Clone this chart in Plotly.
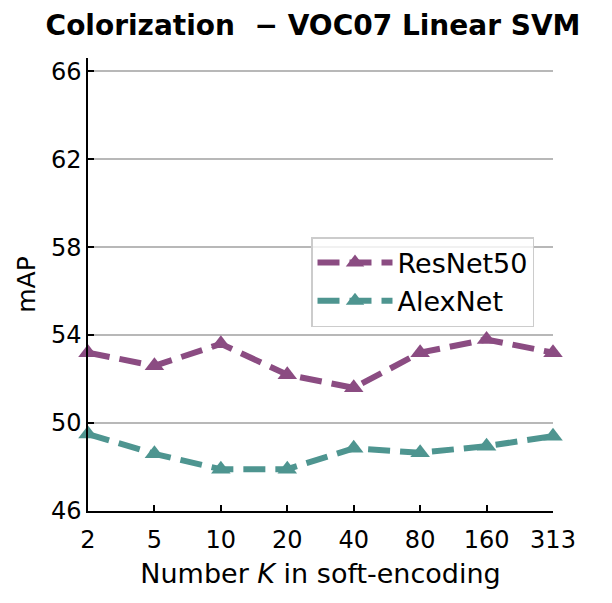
import plotly.graph_objects as go

categories = ["2", "5", "10", "20", "40", "80", "160", "313"]
resnet50 = [53.2, 52.6, 53.6, 52.2, 51.6, 53.2, 53.8, 53.2]
alexnet = [49.5, 48.6, 47.9, 47.9, 48.85, 48.65, 48.95, 49.4]
yticks = [46, 50, 54, 58, 62, 66]

purple = "#8B4C82"
teal = "#4E9590"

fig = go.Figure()
for name, vals, col in [("ResNet50", resnet50, purple), ("AlexNet", alexnet, teal)]:
    fig.add_trace(go.Scatter(
        x=categories, y=vals, name=name, mode="lines+markers",
        line=dict(color=col, width=6, dash="22px,10px"),
        marker=dict(symbol="triangle-up", size=17, color=col),
        cliponaxis=False,
    ))

font = "DejaVu Sans"
fig.update_layout(
    width=612, height=603,
    margin=dict(l=88, r=59, t=58, b=92),
    paper_bgcolor="white", plot_bgcolor="white",
    font=dict(family=font, size=24, color="black"),
    title=dict(text="<b>Colorization  − VOC07 Linear SVM</b>", x=313 / 612, xref="container",
               xanchor="center", y=1 - 25 / 603, yanchor="middle",
               font=dict(size=28, family=font)),
    showlegend=True,
    legend=dict(x=(311 - 88) / 465, y=(511 - 237) / 453, xanchor="left", yanchor="top",
                bgcolor="rgba(255,255,255,0.8)", bordercolor="#cccccc", borderwidth=1.5,
                font=dict(size=27, family=font), itemwidth=75,
                tracegroupgap=4),
)
fig.update_xaxes(
    type="category", range=[0, 7], showgrid=False,
    showline=True, linecolor="black", linewidth=1.5, mirror=False,
    ticks="inside", ticklen=6, tickwidth=1.5, tickcolor="black",
    tickfont=dict(size=24), zeroline=False, ticklabelstandoff=6,
    title=dict(text="Number <i>K</i> in soft-encoding", font=dict(size=27), standoff=12),
)
fig.update_yaxes(
    range=[46, 66.6], tickvals=yticks, showgrid=True, gridcolor="#b8b8b8", gridwidth=2,
    showline=True, linecolor="black", linewidth=1.5, mirror=False,
    ticks="inside", ticklen=6, tickwidth=1.5, tickcolor="black",
    tickfont=dict(size=24), zeroline=False,
    title=dict(text="mAP", font=dict(size=25), standoff=8),
)
fig.write_html("out.html")
